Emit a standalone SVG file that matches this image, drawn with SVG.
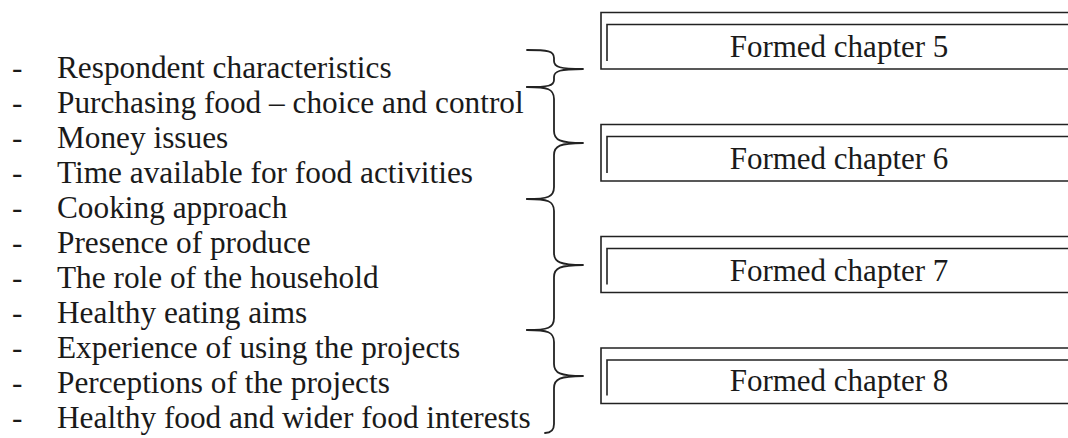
<svg xmlns="http://www.w3.org/2000/svg" width="1068" height="438" viewBox="0 0 1068 438">
<style>
text{font-family:"Liberation Serif","Times New Roman",serif;font-size:31.3px;fill:#1a1a1a}
.lbl{text-anchor:middle;font-size:31px}
.box{fill:none;stroke:#222;stroke-width:1.6}
.brace{fill:none;stroke:#222;stroke-width:1.8;stroke-linejoin:round;stroke-linecap:round}
</style>
<rect width="1068" height="438" fill="#fff"/>
<g id="list">
<text x="12" y="78">-</text><text x="57" y="78">Respondent characteristics</text>
<text x="12" y="113">-</text><text x="57" y="113">Purchasing food – choice and control</text>
<text x="12" y="148">-</text><text x="57" y="148">Money issues</text>
<text x="12" y="183">-</text><text x="57" y="183">Time available for food activities</text>
<text x="12" y="218">-</text><text x="57" y="218">Cooking approach</text>
<text x="12" y="253">-</text><text x="57" y="253">Presence of produce</text>
<text x="12" y="288">-</text><text x="57" y="288">The role of the household</text>
<text x="12" y="323">-</text><text x="57" y="323">Healthy eating aims</text>
<text x="12" y="358">-</text><text x="57" y="358">Experience of using the projects</text>
<text x="12" y="393">-</text><text x="57" y="393">Perceptions of the projects</text>
<text x="12" y="428">-</text><text x="57" y="428">Healthy food and wider food interests</text>
</g>
<g id="connectors">
<path class="brace" d="M527,50 C548,50 554,51 554,58 L554,61 C554,67 560,69 583,69 C560,69 554,71 554,77 L554,80 C554,86 548,87 527,87"/>
<path class="brace" d="M527,87 C548,87 554,89 554,99 L554,131 C554,140 560,143 583,143 C560,143 554,146 554,155 L554,187 C554,197 548,199 527,199"/>
<path class="brace" d="M527,199 C548,199 554,201 554,211 L554,253 C554,262 560,265 583,265 C560,265 554,268 554,277 L554,318 C554,328 548,330 527,330"/>
<path class="brace" d="M527,330 C548,330 554,332 554,342 L554,364 C554,373 560,376 583,376 C560,376 554,379 554,388 L554,424 C554,430 551,433 545,433"/>
</g>
<g id="ch5">
<path class="box" d="M1070,12.5 H601 V69 H1070"/>
<path class="box" d="M607,61 V24.5 H1070"/>
<text class="lbl" x="839" y="57">Formed chapter 5</text>
</g>
<g id="ch6">
<path class="box" d="M1070,124.5 H601 V181 H1070"/>
<path class="box" d="M607,173 V136.5 H1070"/>
<text class="lbl" x="839" y="168.5">Formed chapter 6</text>
</g>
<g id="ch7">
<path class="box" d="M1070,236.5 H601 V292.5 H1070"/>
<path class="box" d="M607,284.5 V248.5 H1070"/>
<text class="lbl" x="839" y="280.5">Formed chapter 7</text>
</g>
<g id="ch8">
<path class="box" d="M1070,348 H601 V403.5 H1070"/>
<path class="box" d="M607,395.5 V360 H1070"/>
<text class="lbl" x="839" y="391">Formed chapter 8</text>
</g>
</svg>
